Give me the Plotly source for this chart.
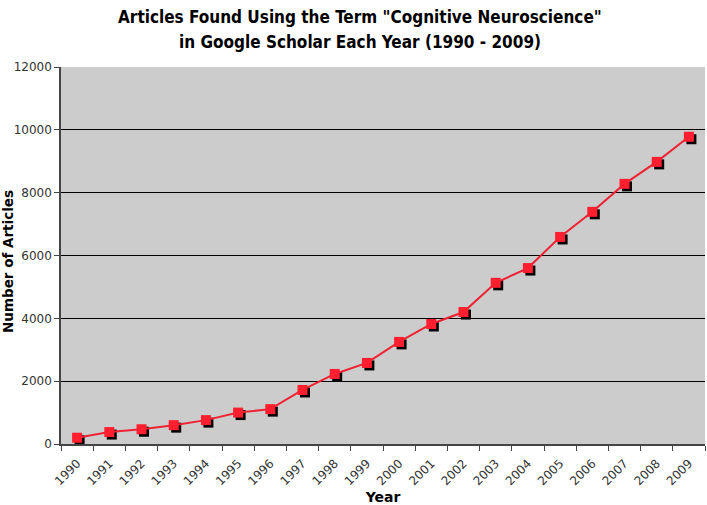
import plotly.graph_objects as go

years = [str(y) for y in range(1990, 2010)]
articles = [200, 380, 470, 600, 760, 1000, 1110, 1720, 2230, 2580,
            3250, 3820, 4200, 5130, 5600, 6590, 7390, 8280, 8980, 9780]
title_lines = ["Articles Found Using the Term \"Cognitive Neuroscience\"",
               "in Google Scholar Each Year (1990 - 2009)"]

W, H = 707, 505
L, R, T, B = 61, 2, 67, 61
pw = W - L - R
ph = H - T - B
ymax = 12000
# shadow offset (~2.5 px) expressed in axis units
sx = 2.5 * len(years) / pw
sy = 2.5 * ymax / ph
xr = [-0.5, len(years) - 0.5]

fig = go.Figure()

# main axes carry ticks/grid only; an invisible dummy keeps them alive
fig.add_trace(go.Scatter(x=years, y=articles, mode="none", hoverinfo="skip",
                         showlegend=False))
# black "shadow" squares on a slightly shifted axis pair
fig.add_trace(go.Scatter(x=years, y=articles, mode="markers", xaxis="x2", yaxis="y2",
                         marker=dict(symbol="square", size=10, color="black"),
                         hoverinfo="skip", showlegend=False))
# the red series on top
fig.add_trace(go.Scatter(x=years, y=articles, mode="lines+markers", xaxis="x3", yaxis="y3",
                         line=dict(color="#ee2233", width=2),
                         marker=dict(symbol="square", size=10, color="#ff1f2f"),
                         showlegend=False))

font = "DejaVu Sans, Verdana, sans-serif"
tfont = "DejaVu Sans Condensed, DejaVu Sans, sans-serif"

# two-line title as annotations so the line spacing can match
for i, line in enumerate(title_lines):
    fig.add_annotation(text="<b>" + line + "</b>", xref="paper", yref="paper",
                       x=(360 - L) / pw, xanchor="center",
                       y=1 + (T - 17 - 25 * i) / ph, yanchor="middle",
                       showarrow=False, font=dict(family=tfont, size=17, color="black"))

fig.add_annotation(text="<b>Number of Articles</b>", xref="paper", yref="paper",
                   x=-(L - 8) / pw, xanchor="center", y=(444 - 262) / ph, yanchor="middle",
                   textangle=-90, showarrow=False,
                   font=dict(family=font, size=13.5, color="black"))

fig.update_layout(
    width=W, height=H,
    margin=dict(l=L, r=R, t=T, b=B),
    paper_bgcolor="white", plot_bgcolor="#cccccc",
    font=dict(family=font, size=12, color="#333"),
    xaxis=dict(type="category", range=xr, tickson="boundaries", automargin=False,
               ticks="outside", ticklen=5, tickcolor="#444", tickangle=-45,
               ticklabelstandoff=6,
               showgrid=False, showline=True, linecolor="#444", linewidth=1.5,
               title=dict(text="<b>Year</b>",
                          font=dict(family=font, size=14, color="black"))),
    yaxis=dict(range=[0, ymax], dtick=2000, tickformat="d", ticks="outside", ticklen=5,
               automargin=False,
               tickcolor="#444", showgrid=True, gridcolor="black", gridwidth=1,
               showline=True, linecolor="#444", linewidth=1.5, zeroline=False),
    xaxis2=dict(type="category", range=[xr[0] - sx, xr[1] - sx], overlaying="x",
                visible=False),
    yaxis2=dict(range=[sy, ymax + sy], overlaying="y", visible=False),
    xaxis3=dict(type="category", range=xr, overlaying="x", visible=False),
    yaxis3=dict(range=[0, ymax], overlaying="y", visible=False),
)

# drop the browser's default body margin so the figure sits at the page corner
fig.write_html("out.html", config={"displayModeBar": False},
               post_script="document.body.style.margin='0';")
